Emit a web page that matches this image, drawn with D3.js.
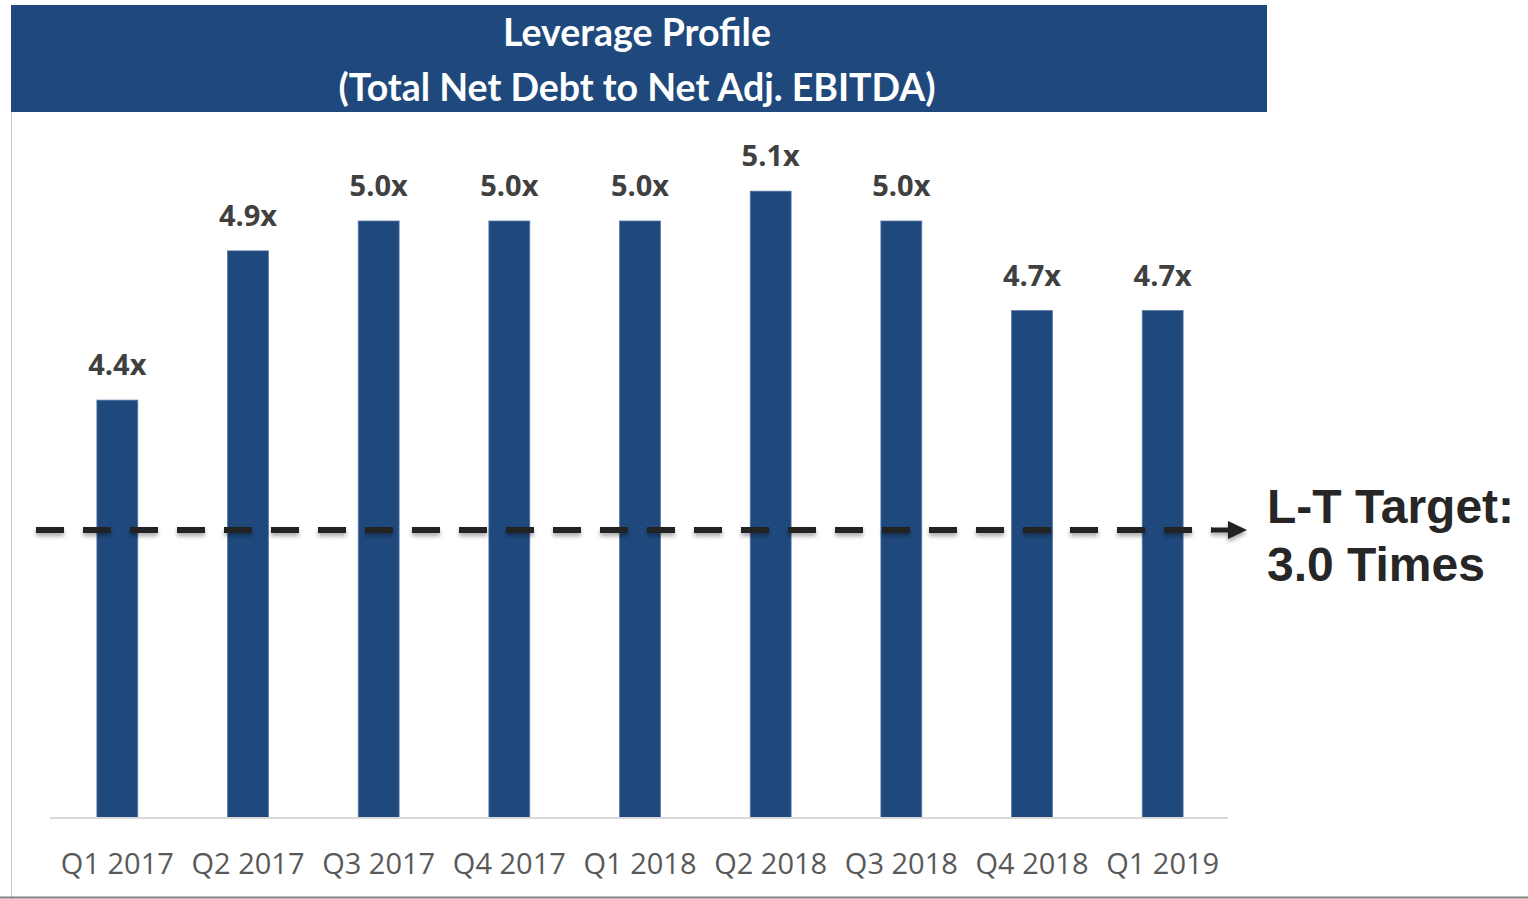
<!DOCTYPE html>
<html><head><meta charset="utf-8">
<script src="https://cdn.jsdelivr.net/npm/d3@7"></script>
<style>
html,body{margin:0;padding:0;background:#fff;}
svg{display:block;}
</style></head>
<body>
<svg id="chart" width="1528" height="899"></svg>
<script>
const categories = ["Q1 2017","Q2 2017","Q3 2017","Q4 2017","Q1 2018","Q2 2018","Q3 2018","Q4 2018","Q1 2019"];
const values = [4.4, 4.9, 5.0, 5.0, 5.0, 5.1, 5.0, 4.7, 4.7];
const valueLabels = ["4.4x","4.9x","5.0x","5.0x","5.0x","5.1x","5.0x","4.7x","4.7x"];
const titleLines = ["Leverage Profile","(Total Net Debt to Net Adj. EBITDA)"];
const targetLines = ["L-T Target:","3.0 Times"];

const svg = d3.select("#chart");
const barColor = "#1F497D";

// frame
svg.append("line").attr("x1",11.5).attr("x2",11.5).attr("y1",112).attr("y2",899).attr("stroke","#c8c8c8").attr("stroke-width",1);
svg.append("line").attr("x1",0).attr("x2",1528).attr("y1",897.5).attr("y2",897.5).attr("stroke","#7f7f7f").attr("stroke-width",2);

// title banner
svg.append("rect").attr("x",11).attr("y",5).attr("width",1256).attr("height",107).attr("fill",barColor);
svg.selectAll("text.title").data(titleLines).join("text").attr("class","title")
  .attr("x",637).attr("y",(d,i)=>46+i*55)
  .attr("text-anchor","middle").attr("fill","#fff")
  .style("font-family","Lato, 'Open Sans', sans-serif").style("font-weight","700").style("font-size","37.5px")
  .text(d=>d);

const x = d3.scaleBand().domain(categories).range([52,1228]).paddingInner(0.687).paddingOuter(0.3435);
const y = d3.scaleLinear().domain([3,5]).range([818,221]);

// bars
svg.selectAll("rect.bar").data(values).join("rect").attr("class","bar")
  .attr("x",(d,i)=>x(categories[i])).attr("width",x.bandwidth())
  .attr("y",d=>y(d)).attr("height",d=>y(3)-y(d))
  .attr("fill",barColor).attr("stroke","#5b7aa6").attr("stroke-width",0.8);

// baseline axis
const xAxis = d3.axisBottom(x).tickSize(0).tickPadding(30);
const gx = svg.append("g").attr("transform",`translate(0,${y(3)})`).call(xAxis);
gx.select(".domain").attr("stroke","#d9d9d9").attr("stroke-width",2).attr("d","M50,0H1228");
gx.selectAll("text").attr("fill","#595959").style("font-family","'Open Sans', sans-serif").style("font-size","29px").attr("dy","0.88em");

// value labels
svg.selectAll("text.vl").data(values).join("text").attr("class","vl")
  .attr("x",(d,i)=>x(categories[i])+x.bandwidth()/2).attr("y",d=>y(d)-25)
  .attr("text-anchor","middle").attr("fill","#404040")
  .style("font-family","'Open Sans', sans-serif").style("font-weight","700").style("font-size","29px")
  .text((d,i)=>valueLabels[i]);

// target dashed line with shadow
const defs = svg.append("defs");
const f = defs.append("filter").attr("id","sh").attr("x","-5%").attr("y","-200%").attr("width","110%").attr("height","500%");
f.append("feDropShadow").attr("dx",0).attr("dy",3).attr("stdDeviation",2).attr("flood-color","#000").attr("flood-opacity",0.35);
const lineY = 530;
const tg = svg.append("g").attr("filter","url(#sh)");
tg.append("line").attr("x1",36).attr("x2",1212).attr("y1",lineY).attr("y2",lineY)
  .attr("stroke","#222").attr("stroke-width",6).attr("stroke-dasharray","28,19");
tg.append("line").attr("x1",1212).attr("x2",1232).attr("y1",lineY).attr("y2",lineY).attr("stroke","#222").attr("stroke-width",5);
tg.append("path").attr("d",`M1228,${lineY-9}L1247,${lineY}L1228,${lineY+9}Z`).attr("fill","#222");

svg.selectAll("text.tg").data(targetLines).join("text").attr("class","tg")
  .attr("x",1267).attr("y",(d,i)=>523+i*58).attr("fill","#262626")
  .style("font-family","'Liberation Sans', Arial, sans-serif").style("font-weight","700").style("font-size","48px")
  .text(d=>d);
</script>
</body></html>
